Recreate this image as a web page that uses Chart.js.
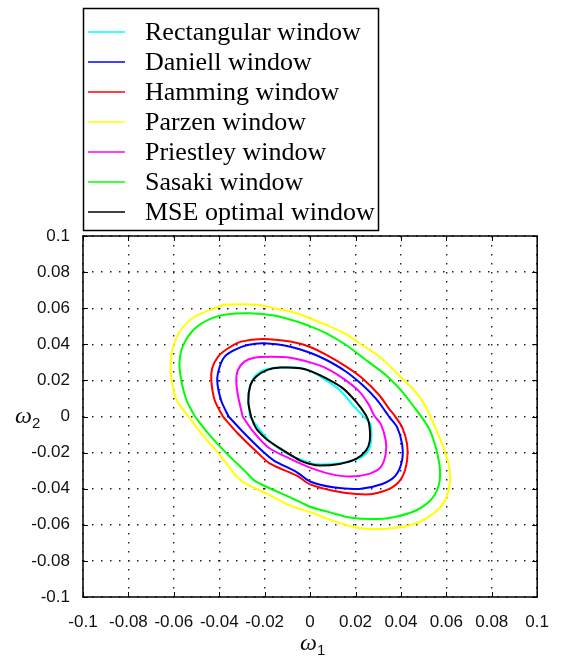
<!DOCTYPE html>
<html>
<head>
<meta charset="utf-8">
<script src="https://cdn.jsdelivr.net/npm/chart.js@4"></script>
<style>
  html, body { margin: 0; padding: 0; background: #fff; }
  #wrap { width: 564px; height: 660px; position: relative; }
</style>
</head>
<body>
<div id="wrap"><canvas id="chart"></canvas></div>
<script>
// Contour lines of the error ellipses, (w1, w2) pairs traced around each loop
const rectangular = [
  [-0.0265, 0.0], [-0.0272, 0.0119], [-0.0257, 0.0193], [-0.0238, 0.023], [-0.0202, 0.0258],
  [-0.0145, 0.0271], [-0.0058, 0.0271], [0.0, 0.0253], [0.0058, 0.0211], [0.013, 0.0147],
  [0.0188, 0.0063], [0.0232, 0.0005], [0.0265, -0.0041], [0.027, -0.0115], [0.026, -0.018],
  [0.0231, -0.0222], [0.0174, -0.0248], [0.0101, -0.0263], [0.0014, -0.0263], [-0.0029, -0.0244],
  [-0.01, -0.0207], [-0.0173, -0.0143], [-0.0231, -0.0059]
];
const daniell = [
  [-0.0359, 0.0], [-0.0392, 0.009], [-0.0409, 0.02], [-0.0398, 0.0276], [-0.0376, 0.0332],
  [-0.0332, 0.0369], [-0.0275, 0.0396], [-0.0202, 0.0406], [-0.0087, 0.0387], [0.0, 0.0353],
  [0.0072, 0.0313], [0.0159, 0.0248], [0.0231, 0.0174], [0.0289, 0.01], [0.0333, 0.0026],
  [0.035, -0.0005], [0.0383, -0.0059], [0.0405, -0.0152], [0.0405, -0.0244], [0.0376, -0.0328],
  [0.0318, -0.0374], [0.0217, -0.0401], [0.0101, -0.0392], [0.0, -0.036], [-0.0058, -0.0309],
  [-0.0159, -0.0244], [-0.0203, -0.02], [-0.029, -0.0093]
];
const hamming = [
  [-0.0384, 0.0], [-0.042, 0.009], [-0.0435, 0.02], [-0.0431, 0.0267], [-0.0405, 0.0332],
  [-0.0361, 0.0378], [-0.0304, 0.0415], [-0.021, 0.043], [-0.0087, 0.0415], [0.0, 0.0385],
  [0.0072, 0.0341], [0.0159, 0.0276], [0.0231, 0.0211], [0.0304, 0.0119], [0.0347, 0.0044],
  [0.0372, 0.0005], [0.0405, -0.0059], [0.0427, -0.0152], [0.0427, -0.0244], [0.0405, -0.0337],
  [0.0362, -0.0392], [0.0275, -0.0429], [0.0202, -0.0429], [0.0101, -0.0411], [0.0, -0.0376],
  [-0.0058, -0.0328], [-0.0174, -0.0263], [-0.0232, -0.02], [-0.0319, -0.0093]
];
const parzen = [
  [-0.0535, 0.0], [-0.0587, 0.009], [-0.061, 0.02], [-0.0614, 0.0304], [-0.06, 0.04],
  [-0.0564, 0.0489], [-0.0506, 0.0554], [-0.0419, 0.06], [-0.0376, 0.0619], [-0.0231, 0.0619],
  [-0.0159, 0.06], [-0.0058, 0.0572], [0.0, 0.0543], [0.0072, 0.0507], [0.0159, 0.0456],
  [0.0217, 0.0406], [0.0304, 0.0332], [0.039, 0.023], [0.0463, 0.0138], [0.0506, 0.0063],
  [0.053, 0.0], [0.0557, -0.0078], [0.0593, -0.0189], [0.0615, -0.03], [0.0615, -0.0374],
  [0.0593, -0.0467], [0.055, -0.0531], [0.0477, -0.0587], [0.039, -0.0615], [0.0275, -0.0624],
  [0.0202, -0.0615], [0.0101, -0.0578], [0.0014, -0.0535], [-0.0087, -0.0494], [-0.0188, -0.0429],
  [-0.0304, -0.0355], [-0.0406, -0.02], [-0.0479, -0.0093]
];
const priestley = [
  [-0.0297, 0.0], [-0.0318, 0.0119], [-0.0325, 0.02], [-0.0318, 0.0257], [-0.0289, 0.0304],
  [-0.0246, 0.0326], [-0.0173, 0.0331], [-0.0087, 0.0326], [0.0, 0.03], [0.0072, 0.0267],
  [0.0145, 0.0211], [0.0217, 0.0138], [0.026, 0.0063], [0.0282, 0.0005], [0.0311, -0.0041],
  [0.0333, -0.0133], [0.0333, -0.0207], [0.0311, -0.0281], [0.026, -0.0318], [0.0174, -0.0333],
  [0.0087, -0.0318], [0.0, -0.0283], [-0.0087, -0.0235], [-0.0185, -0.017], [-0.0254, -0.0078]
];
const sasaki = [
  [-0.0507, 0.0], [-0.0544, 0.009], [-0.0567, 0.02], [-0.0575, 0.0304], [-0.0557, 0.04],
  [-0.0506, 0.0489], [-0.0434, 0.0544], [-0.0361, 0.0567], [-0.0267, 0.0572], [-0.0159, 0.0559],
  [-0.0058, 0.0526], [0.0, 0.05], [0.0072, 0.0461], [0.0159, 0.0396], [0.0246, 0.0313],
  [0.0333, 0.023], [0.0405, 0.0138], [0.0463, 0.0044], [0.0492, -0.0005], [0.0528, -0.0078],
  [0.0557, -0.0189], [0.0572, -0.03], [0.0564, -0.0392], [0.0528, -0.0467], [0.0463, -0.0522],
  [0.0362, -0.0559], [0.0275, -0.0568], [0.0174, -0.0559], [0.0087, -0.0531], [0.0, -0.05],
  [-0.0087, -0.0448], [-0.0188, -0.0392], [-0.0246, -0.0354], [-0.0289, -0.03], [-0.0371, -0.02],
  [-0.0449, -0.0093]
];
const mseOptimal = [
  [-0.026, 0.0], [-0.0272, 0.0081], [-0.0263, 0.0174], [-0.0238, 0.022], [-0.0188, 0.0258],
  [-0.013, 0.0271], [-0.0043, 0.0267], [0.0005, 0.025], [0.0072, 0.0211], [0.0145, 0.0156],
  [0.0202, 0.0082], [0.0246, 0.0007], [0.026, -0.0041], [0.0263, -0.0133], [0.0246, -0.0189],
  [0.0202, -0.0235], [0.013, -0.0263], [0.0043, -0.0272], [0.0, -0.0263], [-0.0043, -0.0244],
  [-0.0116, -0.0189], [-0.0188, -0.013], [-0.0232, -0.0076], [-0.0248, -0.004]
];

const seriesNames = ['Rectangular window', 'Daniell window', 'Hamming window', 'Parzen window',
  'Priestley window', 'Sasaki window', 'MSE optimal window'];
const seriesData = [rectangular, daniell, hamming, parzen, priestley, sasaki, mseOptimal];
const seriesColors = ['#00ffff', '#0000ff', '#ff0000', '#ffff00', '#ff00ff', '#00ff00', '#000000'];

const tickValues = [-0.1, -0.08, -0.06, -0.04, -0.02, 0, 0.02, 0.04, 0.06, 0.08, 0.1];
const tickLabels = ['-0.1', '-0.08', '-0.06', '-0.04', '-0.02', '0', '0.02', '0.04', '0.06', '0.08', '0.1'];

// close each contour by repeating its first point
function loop(pts) {
  const out = pts.map(p => ({ x: p[0], y: p[1] }));
  out.push({ x: pts[0][0], y: pts[0][1] });
  return out;
}

const datasets = seriesData.map((pts, i) => ({
  label: seriesNames[i],
  data: loop(pts),
  borderColor: seriesColors[i],
  backgroundColor: seriesColors[i],
  borderWidth: 2,
  showLine: true,
  pointRadius: 0,
  tension: 0.3,
  order: i === 6 ? -1 : i
}));

function labelFor(v) {
  const k = tickValues.findIndex(t => Math.abs(t - v) < 1e-9);
  return k >= 0 ? tickLabels[k] : '';
}

// boxed legend, inward ticks, full frame and the omega axis names
const decorations = {
  id: 'decorations',
  afterDraw(chart) {
    const ctx = chart.ctx;
    const { left, right, top, bottom } = chart.chartArea;
    const xs = chart.scales.x, ys = chart.scales.y;
    ctx.save();

    // frame
    ctx.strokeStyle = '#000';
    ctx.lineWidth = 1.5;
    ctx.strokeRect(left, top, right - left, bottom - top);

    // ticks pointing into the plot on all four sides
    ctx.lineWidth = 1;
    ctx.beginPath();
    tickValues.forEach(v => {
      const px = Math.round(xs.getPixelForValue(v)) + 0.5;
      ctx.moveTo(px, bottom); ctx.lineTo(px, bottom - 5);
      ctx.moveTo(px, top); ctx.lineTo(px, top + 5);
      const py = Math.round(ys.getPixelForValue(v)) + 0.5;
      ctx.moveTo(left, py); ctx.lineTo(left + 5, py);
      ctx.moveTo(right, py); ctx.lineTo(right - 5, py);
    });
    ctx.stroke();

    // legend box
    ctx.fillStyle = '#fff';
    ctx.fillRect(83, 8, 295, 222);
    ctx.strokeStyle = '#000';
    ctx.lineWidth = 1.5;
    ctx.strokeRect(83.5, 8.5, 295, 222);
    ctx.font = '26px "Liberation Serif", "Times New Roman", serif';
    ctx.textBaseline = 'middle';
    ctx.textAlign = 'left';
    chart.data.datasets.forEach((ds, i) => {
      const y = 32 + i * 30;
      ctx.strokeStyle = ds.borderColor;
      ctx.lineWidth = 1.5;
      ctx.beginPath();
      ctx.moveTo(88, y);
      ctx.lineTo(125, y);
      ctx.stroke();
      ctx.fillStyle = '#000';
      ctx.fillText(ds.label, 145, y + 1);
    });

    // axis names with subscripts
    ctx.fillStyle = '#111';
    const omega = (x, y, sub) => {
      ctx.font = 'italic 24px "Liberation Serif", serif';
      ctx.textBaseline = 'alphabetic';
      ctx.fillText('\u03c9', x, y);
      const w = ctx.measureText('\u03c9').width;
      ctx.font = '15px "Liberation Sans", Arial, sans-serif';
      ctx.fillText(sub, x + w, y + 5);
    };
    omega(300, 650, '1');
    omega(15, 423, '2');

    ctx.restore();
  }
};

const gridStyle = {
  color: '#222',
  lineWidth: 1.4,
  drawTicks: false
};
// dotted grid lines; the solid frame is drawn by the plugin
const borderStyle = { display: false, dash: [1.5, 7.5] };

const tickFont = { family: '"Liberation Sans", Arial, sans-serif', size: 17 };

new Chart(document.getElementById('chart'), {
  type: 'scatter',
  data: { datasets },
  options: {
    responsive: true,
    maintainAspectRatio: false,
    animation: false,
    layout: { padding: { top: 236, right: 19, left: 0, bottom: 0 } },
    plugins: { legend: { display: false }, tooltip: { enabled: false } },
    scales: {
      x: {
        type: 'linear',
        min: -0.1,
        max: 0.1,
        afterBuildTicks: s => { s.ticks = tickValues.map(v => ({ value: v })); },
        afterFit: s => { s.height = 63; },
        grid: gridStyle,
        border: borderStyle,
        ticks: {
          autoSkip: false,
          maxRotation: 0,
          padding: 15,
          color: '#111',
          font: tickFont,
          callback: v => labelFor(v)
        }
      },
      y: {
        type: 'linear',
        min: -0.1,
        max: 0.1,
        afterBuildTicks: s => { s.ticks = tickValues.map(v => ({ value: v })); },
        afterFit: s => { s.width = 83; },
        grid: gridStyle,
        border: borderStyle,
        ticks: {
          autoSkip: false,
          padding: 13,
          color: '#111',
          font: tickFont,
          callback: v => labelFor(v)
        }
      }
    }
  },
  plugins: [decorations]
});
</script>
</body>
</html>
